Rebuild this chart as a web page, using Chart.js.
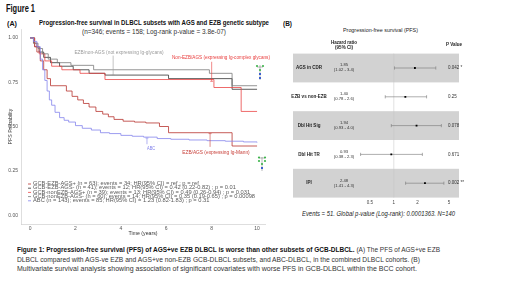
<!DOCTYPE html>
<html>
<head>
<meta charset="utf-8">
<script src="https://cdn.jsdelivr.net/npm/chart.js@4.4.1/dist/chart.umd.min.js"></script>
<style>
  body { margin: 0; width: 520px; height: 292px; background: #fff; position: relative; overflow: hidden; font-family: 'Liberation Sans', Arial, sans-serif; }
  .t { position: absolute; white-space: nowrap; transform-origin: left center; color: #333; }
  .b { font-weight: bold; color: #111; }
  canvas { position: absolute; top: 0; }
</style>
</head>
<body>
<div class="t b" style="left:6px;top:3.5px;font-size:10px;line-height:10px" data-w="29">Figure 1</div>
<div class="t b" style="left:7px;top:21px;font-size:6.5px;line-height:6.5px" data-w="10">(A)</div>
<div class="t b" style="left:39px;top:19.8px;font-size:6.5px;line-height:6.5px" data-w="230">Progression-free survival in DLBCL subsets with AGS and EZB genetic subtype</div>
<div class="t" style="left:82px;top:28.9px;font-size:6.3px;line-height:6.3px" data-w="144">(n=346; events = 158; Log-rank p-value = 3.8e-07)</div>
<div class="t b" style="left:283px;top:21px;font-size:6.5px;line-height:6.5px" data-w="9">(B)</div>
<div class="t" style="left:343px;top:28.3px;font-size:5.5px;line-height:5.5px;color:#222" data-w="75">Progression-free survival (PFS)</div>
<div class="t" style="left:302px;top:209.5px;font-size:7px;line-height:7px;font-style:italic;color:#222" data-w="153">Events = 51. Global p-value (Log-rank): 0.0001363. N=140</div>

<div class="t" style="left:17px;top:246.2px;font-size:7.6px;line-height:7.6px" data-w="423"><b style="color:#111">Figure 1: Progression-free survival (PFS) of AGS+ve EZB DLBCL is worse than other subsets of GCB-DLBCL.</b> (A) The PFS of AGS+ve EZB</div>
<div class="t" style="left:17px;top:255.7px;font-size:7.6px;line-height:7.6px" data-w="403">DLBCL compared with AGS-ve EZB and AGS+ve non-EZB GCB-DLBCL subsets, and ABC-DLBCL, in the combined DLBCL cohorts. (B)</div>
<div class="t" style="left:17px;top:265.2px;font-size:7.6px;line-height:7.6px" data-w="400">Multivariate survival analysis showing association of significant covariates with worse PFS in GCB-DLBCL within the BCC cohort.</div>

<canvas id="km" width="290" height="240" style="left:0"></canvas>
<canvas id="forest" width="180" height="215" style="left:290px"></canvas>

<!-- small glycan pictograms -->
<svg style="position:absolute;left:255px;top:63px" width="10" height="18">
  <line x1="5" y1="2" x2="5" y2="17" stroke="#777" stroke-width="0.5"/>
  <line x1="2" y1="4" x2="8" y2="4" stroke="#777" stroke-width="0.5"/>
  <circle cx="2" cy="3" r="1.1" fill="#3cb44b"/><circle cx="8" cy="3" r="1.1" fill="#3cb44b"/>
  <circle cx="5" cy="7" r="1.1" fill="#3cb44b"/>
  <rect x="4" y="10" width="2" height="2" fill="#3a5fcd"/><rect x="4" y="14" width="2" height="2" fill="#3a5fcd"/>
</svg>
<svg style="position:absolute;left:257px;top:155px" width="10" height="17">
  <line x1="5" y1="2" x2="5" y2="16" stroke="#777" stroke-width="0.5"/>
  <line x1="2" y1="3" x2="8" y2="3" stroke="#777" stroke-width="0.5"/>
  <circle cx="2" cy="2.5" r="1.1" fill="#3cb44b"/><circle cx="8" cy="2.5" r="1.1" fill="#3cb44b"/>
  <circle cx="2" cy="6" r="1.1" fill="#3cb44b"/><circle cx="8" cy="6" r="1.1" fill="#3cb44b"/>
  <circle cx="5" cy="9" r="1.1" fill="#3cb44b"/>
  <rect x="4" y="12" width="2" height="2" fill="#3a5fcd"/>
</svg>

<script>
// ---- Panel A: Kaplan-Meier curves (time in years, survival probability) ----
const groups = ['GCB-EZB-AGS+', 'GCB-EZB-AGS-', 'GCB-nonEZB-AGS+', 'GCB-nonEZB-AGS-', 'ABC'];
const nPatients = [63, 41, 39, 60, 143];
const nEvents = [34, 12, 13, 14, 85];
const hrText = ['ref', '0.42 (0.22-0.82)', '0.49 (0.26-0.94)', '0.35 (0.19-0.65)', '1.23 (0.82-1.83)'];
const pText = ['ref', '0.01', '0.031', '0.00098', '0.31'];

const ezbPosTime = [0, 0.15, 0.3, 0.45, 0.6, 0.75, 0.9, 1.6, 1.85, 2.1, 2.35, 2.6, 2.9, 3.2, 3.45, 3.7, 4.1, 4.6, 5.1, 5.7, 6.1, 8.9, 10.0];
const ezbPosSurv = [1, 0.97, 0.92, 0.87, 0.82, 0.77, 0.73, 0.70, 0.67, 0.65, 0.63, 0.61, 0.585, 0.57, 0.555, 0.54, 0.53, 0.525, 0.52, 0.50, 0.465, 0.39, 0.39];
const ezbNegTime = [0, 0.2, 0.4, 0.6, 0.9, 1.3, 1.9, 2.6, 3.3, 6.1, 8.9, 10.0];
const ezbNegSurv = [1, 0.95, 0.92, 0.89, 0.86, 0.84, 0.82, 0.80, 0.79, 0.77, 0.71, 0.71];
const nonEzbPosTime = [0, 0.2, 0.4, 0.65, 0.95, 1.4, 2.2, 3.3, 8.1, 9.3, 10.0];
const nonEzbPosSurv = [1, 0.95, 0.91, 0.87, 0.84, 0.82, 0.80, 0.765, 0.72, 0.585, 0.585];
const nonEzbNegTime = [0, 0.15, 0.35, 0.55, 0.8, 1.2, 1.8, 2.8, 7.9, 8.9, 10.0];
const nonEzbNegSurv = [1, 0.97, 0.94, 0.91, 0.88, 0.86, 0.845, 0.82, 0.80, 0.73, 0.73];
const abcTime = [0, 0.15, 0.3, 0.45, 0.55, 0.65, 0.75, 0.85, 0.95, 1.1, 1.3, 1.5, 1.7, 2.0, 2.3, 2.7, 3.1, 3.5, 4.0, 4.5, 5.0, 5.6, 6.2, 7.0, 7.8, 8.6, 9.4, 10.0];
const abcSurv = [1, 0.98, 0.95, 0.88, 0.82, 0.76, 0.70, 0.65, 0.62, 0.58, 0.55, 0.535, 0.525, 0.505, 0.49, 0.48, 0.465, 0.46, 0.45, 0.445, 0.44, 0.432, 0.428, 0.424, 0.42, 0.417, 0.413, 0.41];

const timeTicks = [0, 2, 4, 6, 8, 10];
const probTicks = [0, 0.25, 0.5, 0.75, 1];

// curve labels: text, label centre (years, prob), pointer (years, prob from, prob to)
const annText = ['EZB/non-AGS (not expressing Ig-glycans)', 'Non-EZB/AGS (expressing Ig-complex glycans)', 'EZB/AGS (expressing Ig-Mann)', 'ABC'];
const annAt = [[3.92, 0.916], [8.41, 0.888], [8.19, 0.354], [5.33, 0.376]];
const annPointer = [[3.66, 0.90, 0.79], [8.0, 0.865, 0.755], [7.93, 0.385, 0.46], [5.15, 0.40, 0.435]];

// ---- Panel B: forest plot ----
const covariates = ['AGS in CDR', 'EZB vs non-EZB', 'Dbl Hit Sig', 'Dbl Hit TR', 'IPI'];
const hazard = [1.85, 1.40, 1.94, 0.93, 2.48];
const ciLow = [1.02, 0.78, 0.93, 0.38, 1.41];
const ciHigh = [3.4, 2.6, 4.0, 2.3, 4.3];
const pValues = ['0.042 *', '0.25', '0.078', '0.671', '0.002 **'];
const hrTicks = [0.5, 1, 2, 5];

// styles
const groupColors = ['#b8332e', '#333333', '#ea4545', '#7a7a7a', '#8484ec'];
const annColors = ['#9a9a9a', '#e83a3a', '#c8403a', '#7c7cea'];
const annWidths = [92, 98, 68, 8];

Chart.defaults.font.family = "'Liberation Sans', Arial, sans-serif";

// fit text widths of the html labels
document.querySelectorAll('[data-w]').forEach(el => {
    const w = el.getBoundingClientRect().width;
    el.style.transform = 'scaleX(' + (el.dataset.w / w) + ')';
});

const kmExtras = {
    id: 'kmExtras',
    afterDatasetsDraw(chart) {
        const { ctx, chartArea, scales: { x, y } } = chart;
        ctx.save();
        ctx.lineWidth = 0.6;
        annText.forEach((text, i) => {
            const [pt, p0, p1] = annPointer[i];
            const xp = x.getPixelForValue(pt);
            const ye = y.getPixelForValue(p1);
            ctx.strokeStyle = annColors[i];
            ctx.beginPath();
            ctx.moveTo(xp, y.getPixelForValue(p0));
            ctx.lineTo(xp, ye);
            ctx.moveTo(xp - 1.5, ye);
            ctx.lineTo(xp + 1.5, ye);
            ctx.stroke();
            ctx.fillStyle = annColors[i];
            ctx.font = "4.8px 'Liberation Sans', Arial, sans-serif";
            ctx.textAlign = 'center';
            ctx.textBaseline = 'middle';
            ctx.fillText(text, x.getPixelForValue(annAt[i][0]), y.getPixelForValue(annAt[i][1]), annWidths[i]);
        });

        // legend inside the plot, stretched to the reference width
        const lines = groups.map((g, i) =>
            g + ' (n = ' + nPatients[i] + '); events = ' + nEvents[i] + '; HR(95% CI) = ' + hrText[i] + ' ; p = ' + pText[i]);
        ctx.font = "4.7px 'Liberation Sans', Arial, sans-serif";
        ctx.textAlign = 'left';
        const k = 222 / ctx.measureText(lines[3]).width;
        const lx = chartArea.left + 12;
        lines.forEach((line, i) => {
            const ly = 184 + i * 4.2;
            ctx.strokeStyle = groupColors[i];
            ctx.lineWidth = 0.8;
            ctx.beginPath();
            ctx.moveTo(lx - 5, ly);
            ctx.lineTo(lx - 2, ly);
            ctx.stroke();
            ctx.save();
            ctx.translate(lx, ly);
            ctx.scale(k, 1);
            ctx.fillStyle = '#5a5a5a';
            ctx.fillText(line, 0, 0);
            ctx.restore();
        });
        ctx.restore();
    }
};

const curveTimes = [ezbPosTime, ezbNegTime, nonEzbPosTime, nonEzbNegTime, abcTime];
const curveSurv = [ezbPosSurv, ezbNegSurv, nonEzbPosSurv, nonEzbNegSurv, abcSurv];

new Chart(document.getElementById('km'), {
    type: 'line',
    data: {
        datasets: groups.map((g, i) => ({
            label: g,
            data: curveTimes[i].map((t, j) => ({ x: t, y: curveSurv[i][j] })),
            borderColor: groupColors[i],
            borderWidth: 0.8,
            pointRadius: 0,
            stepped: true,
            fill: false
        })).reverse()
    },
    options: {
        responsive: false,
        animation: false,
        devicePixelRatio: 1,
        layout: { padding: { left: 6, right: 25, top: 29, bottom: 2 } },
        plugins: { legend: { display: false }, tooltip: { enabled: false } },
        scales: {
            x: {
                type: 'linear', min: -0.4, max: 10.35,
                afterBuildTicks: s => { s.ticks = timeTicks.map(v => ({ value: v })); },
                afterFit: s => { s.height = 14; },
                grid: { display: false, drawTicks: false },
                border: { color: '#c8c8c8', width: 0.6 },
                ticks: { font: { size: 5 }, color: '#555', padding: 1.5, maxRotation: 0 },
                title: { display: true, text: 'Time (years)', font: { size: 5.2 }, color: '#333', padding: { top: 0, bottom: 1 } }
            },
            y: {
                min: -0.05, max: 1.05,
                afterBuildTicks: s => { s.ticks = probTicks.map(v => ({ value: v })); },
                afterFit: s => { s.width = 15; },
                grid: { display: false, drawTicks: false },
                border: { color: '#c8c8c8', width: 0.6 },
                ticks: { font: { size: 5 }, color: '#555', padding: 3, callback: v => v.toFixed(2) },
                title: { display: true, text: 'PFS Probability', font: { size: 5.2 }, color: '#333', padding: { top: 1, bottom: 0 } }
            }
        }
    },
    plugins: [kmExtras]
});

const forestExtras = {
    id: 'forestExtras',
    beforeDatasetsDraw(chart) {
        const { ctx, chartArea, scales: { x, y } } = chart;
        const half = Math.abs(y.getPixelForValue(1) - y.getPixelForValue(0)) / 2;
        ctx.save();
        covariates.forEach((c, i) => {
            if (i % 2 === 0) {
                const yc = y.getPixelForValue(i);
                ctx.fillStyle = '#d2d2d2';
                ctx.fillRect(3, yc - half, 166, half * 2);
            }
        });
        // reference line at HR = 1
        const x1 = x.getPixelForValue(1);
        ctx.strokeStyle = '#c4c4c4';
        ctx.lineWidth = 0.5;
        ctx.beginPath();
        ctx.moveTo(x1, chartArea.top);
        ctx.lineTo(x1, chartArea.bottom);
        ctx.stroke();

        // headers
        ctx.fillStyle = '#222';
        ctx.font = "bold 4.5px 'Liberation Sans', Arial, sans-serif";
        ctx.textBaseline = 'middle';
        ctx.textAlign = 'center';
        ctx.fillText('Hazard ratio', 54, 43);
        ctx.fillText('(95% CI)', 54, 48);
        ctx.textAlign = 'left';
        ctx.fillText('P Value', 156, 45);

        covariates.forEach((c, i) => {
            const yc = y.getPixelForValue(i);
            const a = x.getPixelForValue(ciLow[i]);
            const b = x.getPixelForValue(ciHigh[i]);
            ctx.strokeStyle = '#777';
            ctx.lineWidth = 0.6;
            ctx.beginPath();
            ctx.moveTo(a, yc); ctx.lineTo(b, yc);
            ctx.moveTo(a, yc - 1.6); ctx.lineTo(a, yc + 1.6);
            ctx.moveTo(b, yc - 1.6); ctx.lineTo(b, yc + 1.6);
            ctx.stroke();

            ctx.fillStyle = '#222';
            ctx.font = "bold 4.5px 'Liberation Sans', Arial, sans-serif";
            ctx.textAlign = 'center';
            ctx.fillText(c, 19, yc);
            ctx.font = "4.2px 'Liberation Sans', Arial, sans-serif";
            ctx.fillStyle = '#333';
            ctx.fillText(hazard[i].toFixed(2), 54, yc - 2.8);
            ctx.fillText('(' + ciLow[i].toFixed(2) + ' - ' + ciHigh[i].toFixed(1) + ')', 54, yc + 2.2);
            ctx.textAlign = 'left';
            ctx.font = "4.5px 'Liberation Sans', Arial, sans-serif";
            ctx.fillText(pValues[i], 158, yc);
        });
        ctx.restore();
    }
};

new Chart(document.getElementById('forest'), {
    type: 'scatter',
    data: {
        datasets: [{
            data: covariates.map((c, i) => ({ x: hazard[i], y: i })),
            pointStyle: 'rect',
            pointRadius: 1.3,
            backgroundColor: '#000',
            borderColor: '#000',
            borderWidth: 0
        }]
    },
    options: {
        responsive: false,
        animation: false,
        devicePixelRatio: 1,
        layout: { padding: { left: 62, right: 18, top: 53.6, bottom: 5.4 } },
        plugins: { legend: { display: false }, tooltip: { enabled: false } },
        scales: {
            x: {
                type: 'logarithmic', min: 0.296, max: 5.45,
                afterBuildTicks: s => { s.ticks = hrTicks.map(v => ({ value: v })); },
                afterFit: s => { s.height = 12; },
                grid: { display: false, drawTicks: false },
                border: { display: false },
                ticks: { font: { size: 4.5 }, color: '#444', padding: 2, callback: v => String(v) }
            },
            y: { type: 'linear', min: -0.5, max: 4.5, reverse: true, display: false }
        }
    },
    plugins: [forestExtras]
});
</script>
</body>
</html>
